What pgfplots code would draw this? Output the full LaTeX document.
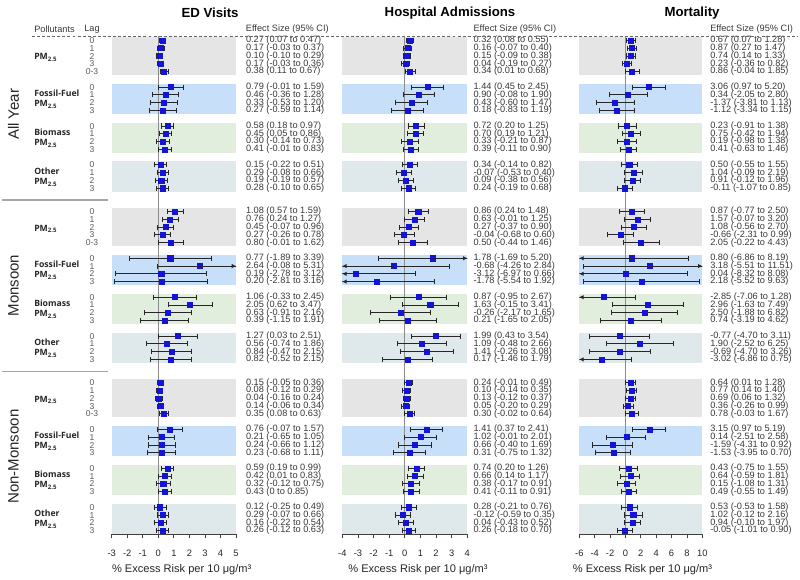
\documentclass[border=0pt]{standalone}
\usepackage{fontspec}
\setmainfont{Liberation Sans}
\newfontfamily\grpfont{Open Sans}
\usepackage{pgfplots}
\pgfplotsset{compat=1.18}
\usepackage{pgfplotstable}
\usetikzlibrary{arrows.meta}

\definecolor{cPM}{RGB}{229,229,229}
\definecolor{cFF}{RGB}{200,223,250}
\definecolor{cBM}{RGB}{225,237,221}
\definecolor{cOT}{RGB}{223,233,235}
\definecolor{mblue}{RGB}{20,20,215}

\newcommand{\valfont}{\fontsize{6.9}{7}\selectfont}
\newcommand{\lagfont}{\fontsize{6.4}{7}\selectfont}
\newcommand{\tickfont}{\fontsize{7}{8}\selectfont}

\tikzset{
 valnode/.style={anchor=west, font=\valfont, text=black!78, inner sep=0pt},
 lagnode/.style={font=\lagfont, text=black!65, inner sep=0pt},
 grpnode/.style={anchor=west, font=\grpfont\bfseries\fontsize{6.5}{7}\selectfont, text=black!85, inner sep=0pt},
 zeroline/.style={black!45, line width=0.9pt},
}

\pgfplotsset{
 fp/.style={
  scale only axis, height=374.03pt, anchor=south west,
  ymin=-63.5, ymax=0.6,
  axis x line*=bottom, axis y line=none, ytick=\empty,
  x axis line style={-, black!75, line width=0.6pt},
  tick align=outside, major tick length=3pt,
  xtick style={black!75, line width=0.6pt},
  xticklabel style={font=\tickfont, text=black!85, yshift=-5pt},
  /pgf/number format/assume math mode=true,
  clip mode=individual,
 },
 fpbar/.style={only marks, mark=square*, mark size=1.9pt,
  mark options={draw=mblue, fill=mblue},
  error bars/.cd, x dir=both, x explicit, error mark=|,
  error bar style={black!85, line width=0.65pt},
  error mark options={black!85, line width=0.65pt, mark size=1.9pt}},
 fparrow/.style={black!85, line width=0.65pt, -{Latex[length=3.2pt,width=3.4pt]}},
}

\newcommand{\panelbg}[2]{%
 \fill[cPM] (axis cs:#1,0.45) rectangle (axis cs:#2,-4.45);
 \fill[cFF] (axis cs:#1,-5.55) rectangle (axis cs:#2,-9.45);
 \fill[cBM] (axis cs:#1,-10.55) rectangle (axis cs:#2,-14.45);
 \fill[cOT] (axis cs:#1,-15.55) rectangle (axis cs:#2,-19.45);
 \fill[cPM] (axis cs:#1,-21.55) rectangle (axis cs:#2,-26.45);
 \fill[cFF] (axis cs:#1,-27.55) rectangle (axis cs:#2,-31.45);
 \fill[cBM] (axis cs:#1,-32.55) rectangle (axis cs:#2,-36.45);
 \fill[cOT] (axis cs:#1,-37.55) rectangle (axis cs:#2,-41.45);
 \fill[cPM] (axis cs:#1,-43.55) rectangle (axis cs:#2,-48.45);
 \fill[cFF] (axis cs:#1,-49.55) rectangle (axis cs:#2,-53.45);
 \fill[cBM] (axis cs:#1,-54.55) rectangle (axis cs:#2,-58.45);
 \fill[cOT] (axis cs:#1,-59.55) rectangle (axis cs:#2,-63.45);
}

\newcommand{\valtexts}[4]{%
 \foreach \ri in {0,...,#2}{%
  \pgfplotstablegetelem{\ri}{k}\of#1\let\rk\pgfplotsretval
  \pgfplotstablegetelem{\ri}{est}\of#1\let\res\pgfplotsretval
  \pgfplotstablegetelem{\ri}{lo}\of#1\let\rlo\pgfplotsretval
  \pgfplotstablegetelem{\ri}{hi}\of#1\let\rhi\pgfplotsretval
  \edef\temp{\noexpand\node[valnode, xshift=#4] at (axis cs:#3,-\rk) {\res{} (\rlo{} to \rhi)};}%
  \temp
 }}

\pgfplotstableread{
k est lo hi
0 0.27 0.07 0.47
1 0.17 -0.03 0.37
2 0.10 -0.10 0.29
3 0.17 -0.03 0.36
4 0.38 0.11 0.67
6 0.79 -0.01 1.59
7 0.46 -0.36 1.28
8 0.33 -0.53 1.20
9 0.27 -0.59 1.14
11 0.58 0.18 0.97
12 0.45 0.05 0.86
13 0.30 -0.14 0.73
14 0.41 -0.01 0.83
16 0.15 -0.22 0.51
17 0.29 -0.08 0.66
18 0.19 -0.19 0.57
19 0.28 -0.10 0.65
22 1.08 0.57 1.59
23 0.76 0.24 1.27
24 0.45 -0.07 0.96
25 0.27 -0.26 0.78
26 0.80 -0.01 1.62
28 0.77 -1.89 3.39
29 2.64 -0.08 5.31
30 0.19 -2.78 3.12
31 0.20 -2.81 3.16
33 1.06 -0.33 2.45
34 2.05 0.62 3.47
35 0.63 -0.91 2.16
36 0.39 -1.15 1.91
38 1.27 0.03 2.51
39 0.56 -0.74 1.86
40 0.84 -0.47 2.15
41 0.82 -0.52 2.15
44 0.15 -0.05 0.36
45 0.08 -0.12 0.29
46 0.04 -0.16 0.24
47 0.14 -0.06 0.34
48 0.35 0.08 0.63
50 0.76 -0.07 1.57
51 0.21 -0.65 1.05
52 0.24 -0.66 1.12
53 0.23 -0.68 1.11
55 0.59 0.19 0.99
56 0.42 0.01 0.83
57 0.32 -0.12 0.75
58 0.43 0 0.85
60 0.12 -0.25 0.49
61 0.29 -0.07 0.66
62 0.16 -0.22 0.54
63 0.26 -0.12 0.63
}\EDdata

\pgfplotstableread{
k est lo hi
0 0.32 0.08 0.55
1 0.16 -0.07 0.40
2 0.15 -0.09 0.38
3 0.04 -0.19 0.27
4 0.34 0.01 0.68
6 1.44 0.45 2.45
7 0.90 -0.08 1.90
8 0.43 -0.60 1.47
9 0.18 -0.83 1.19
11 0.72 0.20 1.25
12 0.70 0.19 1.21
13 0.33 -0.21 0.87
14 0.39 -0.11 0.90
16 0.34 -0.14 0.82
17 -0.07 -0.53 0.40
18 0.09 -0.38 0.56
19 0.24 -0.19 0.68
22 0.86 0.24 1.48
23 0.63 -0.01 1.25
24 0.27 -0.37 0.90
25 -0.04 -0.68 0.60
26 0.50 -0.44 1.46
28 1.78 -1.69 5.20
29 -0.68 -4.26 2.84
30 -3.12 -6.97 0.66
31 -1.78 -5.54 1.92
33 0.87 -0.95 2.67
34 1.63 -0.15 3.41
35 -0.26 -2.17 1.65
36 0.21 -1.65 2.05
38 1.99 0.43 3.54
39 1.09 -0.48 2.66
40 1.41 -0.26 3.08
41 0.17 -1.46 1.79
44 0.24 -0.01 0.49
45 0.10 -0.14 0.35
46 0.13 -0.12 0.37
47 0.05 -0.20 0.29
48 0.30 -0.02 0.64
50 1.41 0.37 2.41
51 1.02 -0.01 2.01
52 0.66 -0.40 1.69
53 0.31 -0.75 1.32
55 0.74 0.20 1.26
56 0.66 0.14 1.17
57 0.38 -0.17 0.91
58 0.41 -0.11 0.91
60 0.28 -0.21 0.76
61 -0.12 -0.59 0.35
62 0.04 -0.43 0.52
63 0.26 -0.18 0.70
}\HAdata

\pgfplotstableread{
k est lo hi
0 0.67 0.07 1.28
1 0.87 0.27 1.47
2 0.74 0.14 1.33
3 0.23 -0.36 0.82
4 0.86 -0.04 1.85
6 3.06 0.97 5.20
7 0.34 -2.05 2.80
8 -1.37 -3.81 1.13
9 -1.12 -3.34 1.15
11 0.23 -0.91 1.38
12 0.75 -0.42 1.94
13 0.19 -0.98 1.38
14 0.41 -0.63 1.46
16 0.50 -0.55 1.55
17 1.04 -0.09 2.19
18 0.91 -0.12 1.96
19 -0.11 -1.07 0.85
22 0.87 -0.77 2.50
23 1.57 -0.07 3.20
24 1.08 -0.56 2.70
25 -0.66 -2.31 0.99
26 2.05 -0.22 4.43
28 0.80 -6.86 8.19
29 3.18 -5.51 11.51
30 0.04 -8.32 8.08
31 2.18 -5.52 9.63
33 -2.85 -7.06 1.28
34 2.96 -1.63 7.49
35 2.50 -1.88 6.82
36 0.74 -3.19 4.62
38 -0.77 -4.70 3.11
39 1.90 -2.52 6.25
40 -0.69 -4.70 3.26
41 -3.02 -6.86 0.75
44 0.64 0.01 1.28
45 0.77 0.14 1.40
46 0.69 0.06 1.32
47 0.36 -0.26 0.99
48 0.78 -0.03 1.67
50 3.15 0.97 5.19
51 0.14 -2.51 2.58
52 -1.59 -4.31 0.92
53 -1.53 -3.95 0.70
55 0.43 -0.75 1.55
56 0.64 -0.59 1.81
57 0.15 -1.08 1.31
58 0.49 -0.55 1.49
60 0.53 -0.53 1.58
61 1.02 -0.12 2.16
62 0.94 -0.10 1.97
63 -0.05 -1.01 0.90
}\MOdata

\begin{document}
\begin{tikzpicture}
\useasboundingbox (0,0) rectangle (600pt,434.25pt);
\pgfplotstablegetrowsof{\EDdata}\pgfmathtruncatemacro\nED{\pgfplotsretval-1}
\pgfplotstablegetrowsof{\HAdata}\pgfmathtruncatemacro\nHA{\pgfplotsretval-1}
\pgfplotstablegetrowsof{\MOdata}\pgfmathtruncatemacro\nMO{\pgfplotsretval-1}

% ---------- ED Visits ----------
\begin{axis}[fp, at={(83.78pt,33.4pt)}, width=93.23pt, xmin=-3, xmax=5, xtick={-3,...,5}]
\panelbg{-3}{5}
\draw[zeroline] (axis cs:0,0.6) -- (axis cs:0,-63.5);
\addplot[fpbar] table[x=est, y expr=-\thisrow{k}, x error plus expr=\thisrow{hi}-\thisrow{est}, x error minus expr=\thisrow{est}-\thisrow{lo}] {\EDdata};
\addplot[fparrow] coordinates {(2.64,-29) (5,-29)};
\valtexts{\EDdata}{\nED}{5}{7.3pt}
\end{axis}

% ---------- Hospital Admissions ----------
\begin{axis}[fp, at={(256.73pt,33.4pt)}, width=93.75pt, xmin=-4, xmax=4, xtick={-4,...,4}]
\panelbg{-4}{4}
\draw[zeroline] (axis cs:0,0.6) -- (axis cs:0,-63.5);
\addplot[fpbar] table[x=est, y expr=-\thisrow{k}, x error plus expr=\thisrow{hi}-\thisrow{est}, x error minus expr=\thisrow{est}-\thisrow{lo}] {\HAdata};
\addplot[fparrow] coordinates {(1.78,-28) (4,-28)};
\addplot[fparrow] coordinates {(-0.68,-29) (-4,-29)};
\addplot[fparrow] coordinates {(-3.12,-30) (-4,-30)};
\addplot[fparrow] coordinates {(-1.78,-31) (-4,-31)};
\valtexts{\HAdata}{\nHA}{4}{4.5pt}
\end{axis}

% ---------- Mortality ----------
\begin{axis}[fp, at={(434.48pt,33.4pt)}, width=92.25pt, xmin=-6, xmax=10, xtick={-6,-4,...,10}]
\panelbg{-6}{10}
\draw[zeroline] (axis cs:0,0.6) -- (axis cs:0,-63.5);
\addplot[fpbar] table[x=est, y expr=-\thisrow{k}, x error plus expr=\thisrow{hi}-\thisrow{est}, x error minus expr=\thisrow{est}-\thisrow{lo}] {\MOdata};
\addplot[fparrow] coordinates {(0.80,-28) (-6,-28)};
\addplot[fparrow] coordinates {(3.18,-29) (10,-29)};
\addplot[fparrow] coordinates {(0.04,-30) (-6,-30)};
\addplot[fparrow] coordinates {(-2.85,-33) (-6,-33)};
\addplot[fparrow] coordinates {(-3.02,-41) (-6,-41)};
\valtexts{\MOdata}{\nMO}{10}{5.8pt}
\end{axis}

% ---------- annotations in pixel coordinates ----------
\begin{scope}[x=0.75pt, y=-0.75pt, shift={(0pt,434.25pt)}]
\node[font=\fontsize{9.9}{11}\selectfont\bfseries] at (210,13) {ED Visits};
\node[font=\fontsize{9.9}{11}\selectfont\bfseries] at (450,13) {Hospital Admissions};
\node[font=\fontsize{9.9}{11}\selectfont\bfseries] at (692,13) {Mortality};
\node[valnode] at (34,29) {Pollutants};
\node[valnode, anchor=center] at (92,29) {Lag};
\node[valnode] at (245.7,29) {Effect Size (95\% CI)};
\node[valnode] at (473.3,29) {Effect Size (95\% CI)};
\node[valnode] at (710,29) {Effect Size (95\% CI)};
\draw[black!60, line width=0.5pt, dash pattern=on 2.2pt off 1.6pt] (32,36) -- (798,36);
\draw[black!35, line width=0.8pt] (2,200) -- (108,200);
\draw[black!35, line width=0.8pt] (2,371.2) -- (108,371.2);
\node[rotate=90, font=\fontsize{11.25}{12}\selectfont, text=black!85] at (13.5,114.4) {All Year};
\node[rotate=90, font=\fontsize{11.25}{12}\selectfont, text=black!85] at (13.5,285.6) {Monsoon};
\node[rotate=90, font=\fontsize{11.25}{12}\selectfont, text=black!85] at (13.5,456.7) {Non-Monsoon};
\foreach \b in {0,22,44}{
  \foreach \i/\t in {0/0,1/1,2/2,3/3,4/0-3} \node[lagnode] at (92,{40.5+7.78*(\b+\i)}) {\t};
  \foreach \g in {6,11,16}{\foreach \i in {0,1,2,3} \node[lagnode] at (92,{40.5+7.78*(\b+\g+\i)}) {\i};}
  \node[grpnode] at (34,{40.5+7.78*(\b+2.2)}) {PM\textsubscript{2.5}};
  \node[grpnode] at (34,{40.5+7.78*(\b+7.5)-5.5}) {Fossil-Fuel};
  \node[grpnode] at (34,{40.5+7.78*(\b+7.5)+5.5}) {PM\textsubscript{2.5}};
  \node[grpnode] at (34,{40.5+7.78*(\b+12.5)-5.5}) {Biomass};
  \node[grpnode] at (34,{40.5+7.78*(\b+12.5)+5.5}) {PM\textsubscript{2.5}};
  \node[grpnode] at (34,{40.5+7.78*(\b+17.5)-5.5}) {Other};
  \node[grpnode] at (34,{40.5+7.78*(\b+17.5)+5.5}) {PM\textsubscript{2.5}};
}
\node[font=\fontsize{8.3}{9}\selectfont, text=black!85] at (181.7,570) {\% Excess Risk per 10 μg/m³};
\node[font=\fontsize{8.3}{9}\selectfont, text=black!85] at (418,570) {\% Excess Risk per 10 μg/m³};
\node[font=\fontsize{8.3}{9}\selectfont, text=black!85] at (642.5,570) {\% Excess Risk per 10 μg/m³};
\end{scope}
\end{tikzpicture}
\end{document}
